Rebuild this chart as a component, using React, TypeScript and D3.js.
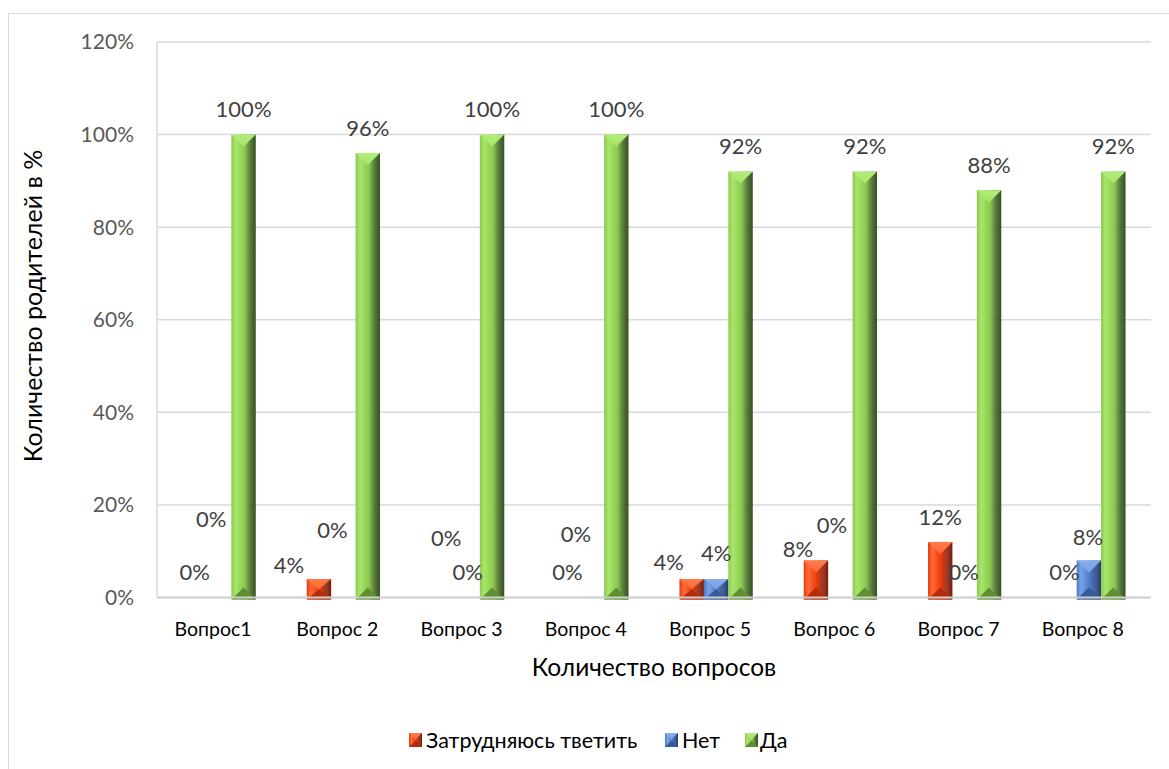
import React from 'react';
import * as d3 from 'd3';

const categories = ['Вопрос1', 'Вопрос 2', 'Вопрос 3', 'Вопрос 4', 'Вопрос 5', 'Вопрос 6', 'Вопрос 7', 'Вопрос 8'];
const seriesNames = ['Затрудняюсь тветить', 'Нет', 'Да'];
const hardValues = [0, 4, 0, 0, 4, 8, 12, 0];
const noValues = [0, 0, 0, 0, 4, 0, 0, 8];
const yesValues = [100, 96, 100, 100, 92, 92, 88, 92];
const yTicks = [0, 20, 40, 60, 80, 100, 120];

// hand-moved data labels in the original (px offsets from the default spot)
const labelNudge: [number, number][][] = [
  [[0, 0], [-30, 11], [3, -34.5], [0, 0], [-23, 8], [-18, 13.5], [0, 0], [0, 0]],
  [[-8, -53.5], [-11, -42.5], [0, 0], [-16, -38.5], [0, -1], [-8.5, -47.5], [-1, 0], [-1, 1.5]],
  [[0, 0], [0, 0], [0, 0], [0, 0], [0, 0], [0, 0], [0, 0], [0, 0]],
];

const palettes = [
  { light: '#ff6a36', mid: '#e83a0c', dark: '#7e1804', top: '#ff7a4a', bottom: '#b52a08' },
  { light: '#7aa3e6', mid: '#4a78c6', dark: '#213c74', top: '#86adec', bottom: '#36599a' },
  { light: '#a8e66a', mid: '#8cc850', dark: '#34551b', top: '#b2ec78', bottom: '#5f8f31' },
];

const W = 1169;
const H = 769;
const plot = { left: 157, right: 1151, top: 42, bottom: 597.5 };
const font = 'Lato, "Liberation Sans", sans-serif';

function BevelBar({ x, y, w, h, i }: { x: number; y: number; w: number; h: number; i: number }) {
  if (h <= 0) return null;
  const p = palettes[i];
  const b = Math.min(12, h / 2, w / 2);
  return (
    <g>
      <rect x={x} y={y} width={w} height={h} fill={`url(#body-${i})`} />
      <polygon points={`${x},${y} ${x + w},${y} ${x + w / 2},${y + b}`} fill={`url(#top-${i})`} />
      <polygon points={`${x},${y + h} ${x + w},${y + h} ${x + w / 2},${y + h - b}`} fill={p.bottom} />
    </g>
  );
}

export default function App() {
  const x = d3.scaleBand<string>().domain(categories).range([plot.left, plot.right]).paddingInner(0.41).paddingOuter(0.205);
  const inner = d3.scaleBand<number>().domain([0, 1, 2]).range([0, x.bandwidth()]);
  const y = d3.scaleLinear().domain([0, 120]).range([plot.bottom, plot.top]);
  const series = [hardValues, noValues, yesValues];
  const bw = inner.bandwidth();

  const legendItems = [
    { name: seriesNames[0], mx: 409, tx: 426 },
    { name: seriesNames[1], mx: 665, tx: 682 },
    { name: seriesNames[2], mx: 745, tx: 760 },
  ];

  return (
    <div style={{ position: 'absolute', left: 0, top: 0 }}>
      <svg width={W} height={H} style={{ display: 'block', background: '#fff' }}>
        <defs>
          {palettes.map((p, i) => (
            <React.Fragment key={i}>
              <linearGradient id={`body-${i}`} x1="0" x2="1" y1="0" y2="0">
                <stop offset="0%" stopColor={p.mid} />
                <stop offset="18%" stopColor={p.light} />
                <stop offset="55%" stopColor={p.mid} />
                <stop offset="82%" stopColor={p.dark} stopOpacity={0.85} />
                <stop offset="100%" stopColor={p.dark} />
              </linearGradient>
              <linearGradient id={`top-${i}`} x1="0" x2="0" y1="0" y2="1">
                <stop offset="0%" stopColor={p.top} />
                <stop offset="100%" stopColor={p.light} />
              </linearGradient>
            </React.Fragment>
          ))}
        </defs>

        <rect x={8.5} y={13.5} width={1300} height={900} fill="#fff" stroke="#d9d9d9" />

        {yTicks.map(t => (
          <g key={t}>
            <line x1={plot.left} x2={plot.right} y1={y(t)} y2={y(t)} stroke="#d9d9d9" strokeWidth={1.5} />
            <text x={134} y={y(t)} dy="0.35em" textAnchor="end" fontFamily={font} fontSize={21} fill="#595959">
              {t}%
            </text>
          </g>
        ))}
        <line x1={plot.left} x2={plot.left} y1={plot.top} y2={plot.bottom} stroke="#d9d9d9" strokeWidth={1.5} />

        {categories.map((c, ci) =>
          series.map((vals, si) => {
            if (vals[ci] <= 0) return null;
            const bx = (x(c) as number) + (inner(si) as number);
            const top = y(vals[ci]);
            return <BevelBar key={`${ci}-${si}`} x={bx} y={top} w={bw} h={plot.bottom - top + 2} i={si} />;
          })
        )}

        <line x1={plot.left} x2={plot.right} y1={plot.bottom} y2={plot.bottom} stroke="#d0d0d0" strokeWidth={2} />

        {categories.map((c, ci) =>
          series.map((vals, si) => {
            const cx = (x(c) as number) + (inner(si) as number) + bw / 2;
            const [dx, dy] = labelNudge[si][ci];
            return (
              <text
                key={`l-${ci}-${si}`}
                x={cx + dx}
                y={y(vals[ci]) - 25 + dy}
                dy="0.35em"
                textAnchor="middle"
                fontFamily={font}
                fontSize={22}
                fill="#404040"
              >
                {vals[ci]}%
              </text>
            );
          })
        )}

        {categories.map(c => (
          <text
            key={c}
            x={(x(c) as number) + x.bandwidth() / 2 - 6}
            y={629}
            dy="0.35em"
            textAnchor="middle"
            fontFamily={font}
            fontSize={19.5}
            fill="#000"
          >
            {c}
          </text>
        ))}

        <text x={654} y={667} dy="0.35em" textAnchor="middle" fontFamily={font} fontSize={24.5} fill="#000">
          Количество вопросов
        </text>
        <text
          transform="translate(33,306) rotate(-90)"
          dy="0.35em"
          textAnchor="middle"
          fontFamily={font}
          fontSize={25}
          fill="#000"
        >
          Количество родителей в %
        </text>

        {legendItems.map((d, i) => (
          <g key={d.name}>
            <BevelBar x={d.mx} y={733} w={13} h={14} i={i} />
            <text x={d.tx} y={740} dy="0.35em" fontFamily={font} fontSize={21.5} fill="#000">
              {d.name}
            </text>
          </g>
        ))}
      </svg>
    </div>
  );
}
